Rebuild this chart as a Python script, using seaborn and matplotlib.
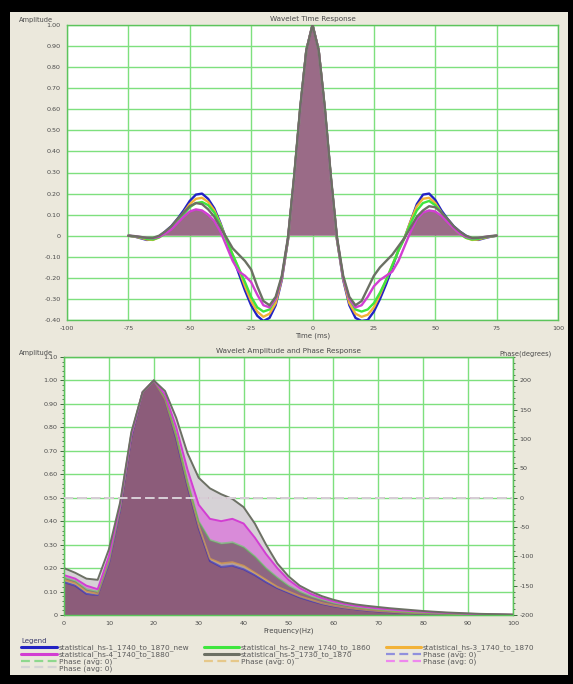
import numpy as np
import pandas as pd
import matplotlib
matplotlib.use("Agg")
import matplotlib.pyplot as plt
import seaborn as sns
from matplotlib.ticker import MultipleLocator, FuncFormatter
from matplotlib.patches import Rectangle
from matplotlib.lines import Line2D

sns.set_style("white")
plt.rcParams["font.family"] = ["DejaVu Sans"]
plt.rcParams["axes.unicode_minus"] = False

# ---------------- data ----------------
series_names = [
    "statistical_hs-1_1740_to_1870_new",
    "statistical_hs-2_new_1740_to_1860",
    "statistical_hs-3_1740_to_1870",
    "statistical_hs-4_1740_to_1880",
    "statistical_hs-5_1730_to_1870",
]
phase_label = "Phase (avg: 0)"
phase_avg = [0, 0, 0, 0, 0]

time_ms = np.arange(-75, 77.5, 2.5)

hs1_time = [0.0, -0.004, -0.012, -0.02, -0.018, -0.005, 0.02, 0.045, 0.08, 0.12, 0.165, 0.195, 0.20, 0.175, 0.13,
            0.06, -0.02, -0.10, -0.18, -0.26, -0.33, -0.38, -0.405, -0.39, -0.33, -0.21, -0.02, 0.27, 0.60, 0.88,
            1.00, 0.88, 0.60, 0.27, -0.02, -0.21, -0.33, -0.39, -0.405, -0.40, -0.36, -0.30, -0.23, -0.15, -0.07,
            -0.01, 0.07, 0.15, 0.195, 0.20, 0.17, 0.12, 0.08, 0.045, 0.02, 0.00, -0.015, -0.02, -0.012, -0.005, 0.0]
hs2_time = [0.0, -0.003, -0.008, -0.015, -0.018, -0.008, 0.01, 0.035, 0.065, 0.10, 0.135, 0.155, 0.16, 0.145, 0.11,
            0.05, -0.02, -0.09, -0.155, -0.22, -0.29, -0.34, -0.36, -0.35, -0.30, -0.20, -0.02, 0.27, 0.60, 0.88,
            1.00, 0.88, 0.60, 0.27, -0.02, -0.20, -0.30, -0.35, -0.36, -0.35, -0.32, -0.27, -0.21, -0.14, -0.07,
            -0.01, 0.06, 0.12, 0.155, 0.165, 0.145, 0.11, 0.07, 0.035, 0.01, -0.01, -0.018, -0.015, -0.008, -0.003, 0.0]
hs3_time = [0.0, -0.004, -0.01, -0.018, -0.02, -0.008, 0.012, 0.04, 0.07, 0.11, 0.15, 0.175, 0.18, 0.16, 0.12,
            0.055, -0.02, -0.09, -0.16, -0.24, -0.31, -0.36, -0.385, -0.37, -0.32, -0.205, -0.02, 0.27, 0.60, 0.88,
            1.00, 0.88, 0.60, 0.27, -0.02, -0.205, -0.32, -0.37, -0.385, -0.375, -0.34, -0.28, -0.21, -0.14, -0.07,
            -0.01, 0.07, 0.14, 0.175, 0.18, 0.155, 0.11, 0.07, 0.035, 0.01, -0.01, -0.02, -0.018, -0.01, -0.004, 0.0]
hs4_time = [0.0, -0.002, -0.006, -0.01, -0.012, -0.005, 0.01, 0.03, 0.06, 0.09, 0.115, 0.125, 0.12, 0.10, 0.07,
            0.02, -0.05, -0.12, -0.17, -0.19, -0.22, -0.28, -0.33, -0.34, -0.30, -0.20, -0.015, 0.27, 0.60, 0.88,
            1.00, 0.88, 0.60, 0.27, -0.015, -0.20, -0.30, -0.34, -0.33, -0.29, -0.24, -0.21, -0.19, -0.17, -0.12,
            -0.05, 0.02, 0.08, 0.11, 0.12, 0.115, 0.095, 0.065, 0.035, 0.01, -0.005, -0.012, -0.01, -0.006, -0.002, 0.0]
hs5_time = [0.0, -0.002, -0.006, -0.01, -0.01, 0.0, 0.02, 0.045, 0.08, 0.11, 0.14, 0.155, 0.15, 0.125, 0.09,
            0.04, -0.01, -0.06, -0.09, -0.12, -0.16, -0.24, -0.31, -0.33, -0.29, -0.19, -0.01, 0.28, 0.61, 0.88,
            1.00, 0.88, 0.61, 0.28, -0.01, -0.19, -0.29, -0.33, -0.31, -0.25, -0.19, -0.15, -0.12, -0.09, -0.05,
            -0.01, 0.04, 0.09, 0.12, 0.14, 0.135, 0.11, 0.08, 0.045, 0.02, 0.0, -0.01, -0.01, -0.006, -0.002, 0.0]

freq_hz = np.arange(0, 102.5, 2.5)

hs1_amp = [0.14, 0.125, 0.09, 0.085, 0.22, 0.45, 0.76, 0.95, 1.00, 0.92, 0.75, 0.55, 0.37, 0.23, 0.205, 0.21,
           0.195, 0.17, 0.14, 0.115, 0.095, 0.075, 0.06, 0.047, 0.037, 0.03, 0.024, 0.019, 0.015, 0.012, 0.01,
           0.008, 0.006, 0.005, 0.004, 0.003, 0.002, 0.002, 0.001, 0.001, 0.0]
hs2_amp = [0.16, 0.145, 0.11, 0.10, 0.24, 0.46, 0.77, 0.95, 1.00, 0.93, 0.77, 0.57, 0.40, 0.32, 0.305, 0.31,
           0.29, 0.25, 0.20, 0.16, 0.125, 0.10, 0.08, 0.065, 0.052, 0.042, 0.034, 0.028, 0.023, 0.019, 0.015,
           0.012, 0.01, 0.008, 0.006, 0.005, 0.004, 0.003, 0.002, 0.002, 0.001]
hs3_amp = [0.15, 0.135, 0.10, 0.09, 0.23, 0.46, 0.77, 0.95, 1.00, 0.92, 0.76, 0.56, 0.38, 0.24, 0.22, 0.225,
           0.21, 0.18, 0.15, 0.12, 0.10, 0.08, 0.065, 0.05, 0.04, 0.032, 0.026, 0.021, 0.017, 0.014, 0.011,
           0.009, 0.007, 0.006, 0.005, 0.004, 0.003, 0.002, 0.002, 0.001, 0.001]
hs4_amp = [0.17, 0.155, 0.125, 0.11, 0.25, 0.47, 0.77, 0.95, 1.00, 0.94, 0.80, 0.62, 0.47, 0.41, 0.40, 0.41,
           0.39, 0.33, 0.26, 0.20, 0.15, 0.115, 0.09, 0.072, 0.058, 0.047, 0.039, 0.033, 0.028, 0.024, 0.02,
           0.017, 0.014, 0.011, 0.009, 0.007, 0.005, 0.004, 0.003, 0.002, 0.001]
hs5_amp = [0.20, 0.18, 0.155, 0.15, 0.28, 0.48, 0.78, 0.95, 1.00, 0.955, 0.84, 0.69, 0.585, 0.54, 0.515, 0.495,
           0.46, 0.39, 0.30, 0.22, 0.165, 0.125, 0.10, 0.08, 0.065, 0.053, 0.045, 0.039, 0.034, 0.029, 0.025,
           0.021, 0.017, 0.014, 0.011, 0.009, 0.007, 0.005, 0.004, 0.003, 0.002]

time_vals = [hs1_time, hs2_time, hs3_time, hs4_time, hs5_time]
amp_vals = [hs1_amp, hs2_amp, hs3_amp, hs4_amp, hs5_amp]

# ---------------- styles ----------------
line_colors = ["#2222c4", "#3ee63e", "#f2b238", "#d23ed2", "#6c7064"]
phase_colors = ["#9090dd", "#8ed88e", "#e6c88a", "#ee88ee", "#d4d4d4"]
fill_colors = ["#8c5c7a", "#8e6682", "#a99aa8", "#d98bd9", "#d6d2d6"]  # per series (hs-1..hs-5)
spec_line_alpha = [0.55, 0.45, 0.55, 1.0, 1.0]
grid_c = "#7ee07e"
spine_c = "#5cc45c"
txt_c = "#4a4a4a"

df_time = pd.DataFrame({"Time": np.tile(time_ms, 5),
                        "Amplitude": np.concatenate(time_vals),
                        "Series": np.repeat(series_names, len(time_ms))})

fig = plt.figure(figsize=(5.73, 6.84), dpi=100, facecolor="black")
fig.add_artist(Rectangle((10 / 573, 1 - 675 / 684), 558 / 573, 663 / 684, transform=fig.transFigure,
                         facecolor="#ebe8dc", edgecolor="none", zorder=0))


def fmt_amp(v, _):
    return "0" if abs(v) < 1e-9 else f"{v:.2f}"


def style_axes(ax):
    ax.set_facecolor("white")
    ax.grid(True, which="major", color=grid_c, lw=1.0)
    ax.set_axisbelow(True)
    for s in ax.spines.values():
        s.set_color(spine_c)
        s.set_linewidth(1.0)
    ax.tick_params(which="major", labelsize=4.6, labelcolor=txt_c, color="#3d6b3d", length=3, width=0.7, pad=1.5)
    ax.tick_params(which="minor", color="#3d6b3d", length=1.6, width=0.6)


# ---------------- top: time response ----------------
ax1 = fig.add_axes([67 / 573, 1 - 320 / 684, 491 / 573, 295 / 684])
style_axes(ax1)
ax1.set_xlim(-100, 100)
ax1.set_ylim(-0.40, 1.00)
ax1.xaxis.set_major_locator(MultipleLocator(25))
ax1.xaxis.set_minor_locator(MultipleLocator(5))
ax1.yaxis.set_major_locator(MultipleLocator(0.1))
ax1.yaxis.set_minor_locator(MultipleLocator(0.02))
ax1.yaxis.set_major_formatter(FuncFormatter(fmt_amp))
ax1.fill_between(time_ms, 0, hs4_time, where=np.array(hs4_time) > 0, interpolate=True,
                 color="#9a6b87", lw=0, zorder=2)
sns.lineplot(data=df_time, x="Time", y="Amplitude", hue="Series",
             hue_order=[series_names[i] for i in [0, 2, 1, 3, 4]],
             palette=dict(zip(series_names, line_colors)), lw=1.7, ax=ax1,
             legend=False, estimator=None, sort=False, zorder=3)
ax1.set_xlabel("Time (ms)", fontsize=5, color=txt_c, labelpad=1)
ax1.set_ylabel("")
ax1.set_title("Wavelet Time Response", fontsize=5.2, color=txt_c, pad=3)
fig.text(36 / 573, 1 - 20 / 684, "Amplitude", fontsize=4.8, color=txt_c, ha="center", va="center")

# ---------------- bottom: amplitude & phase ----------------
ax2 = fig.add_axes([64 / 573, 1 - 615 / 684, 449 / 573, 258 / 684])
style_axes(ax2)
ax2.set_xlim(0, 100)
ax2.set_ylim(0, 1.10)
ax2.xaxis.set_major_locator(MultipleLocator(10))
ax2.xaxis.set_minor_locator(MultipleLocator(2))
ax2.yaxis.set_major_locator(MultipleLocator(0.1))
ax2.yaxis.set_minor_locator(MultipleLocator(0.02))
ax2.yaxis.set_major_formatter(FuncFormatter(fmt_amp))
for i in [4, 3, 1, 2, 0]:
    ax2.fill_between(freq_hz, 0, amp_vals[i], color=fill_colors[i], lw=0, zorder=2)
for i in [0, 2, 1, 3, 4]:
    sns.lineplot(x=freq_hz, y=amp_vals[i], color=line_colors[i], alpha=spec_line_alpha[i], lw=1.4,
                 ax=ax2, estimator=None, sort=False, zorder=3)
ax2.set_xlabel("Frequency(Hz)", fontsize=5, color=txt_c, labelpad=1)
ax2.set_ylabel("")
ax2.set_title("Wavelet Amplitude and Phase Response", fontsize=5.2, color=txt_c, pad=3)
fig.text(36 / 573, 1 - 353 / 684, "Amplitude", fontsize=4.8, color=txt_c, ha="center", va="center")

ax3 = ax2.twinx()
ax3.set_ylim(-200, 240)
ax3.yaxis.set_major_locator(MultipleLocator(50))
ax3.yaxis.set_minor_locator(MultipleLocator(10))
for s in ax3.spines.values():
    s.set_color(spine_c)
ax3.tick_params(which="major", labelsize=4.6, labelcolor=txt_c, color="#3d6b3d", length=3, width=0.7, pad=1.5)
ax3.tick_params(which="minor", color="#3d6b3d", length=1.6, width=0.6)
ax3.grid(False)
for p, c in zip(phase_avg, phase_colors):
    ax3.axhline(p, color=c, lw=1.3, ls=(0, (5, 2.5)), zorder=4)
fig.text(525 / 573, 1 - 354 / 684, "Phase(degrees)", fontsize=4.8, color=txt_c, ha="center", va="center")

# ---------------- legend ----------------
h_series = [Line2D([], [], color=c, lw=2.2) for c in line_colors]
h_phase = [Line2D([], [], color=c, lw=1.6, ls=(0, (4, 2))) for c in phase_colors]
labels_series = series_names
order = [(h_series[0], labels_series[0]), (h_series[3], labels_series[3]),
         (h_phase[1], phase_label), (h_phase[4], phase_label),
         (h_series[1], labels_series[1]), (h_series[4], labels_series[4]),
         (h_phase[2], phase_label),
         (h_series[2], labels_series[2]), (h_phase[0], phase_label),
         (h_phase[3], phase_label)]
leg = fig.legend([o[0] for o in order], [o[1] for o in order], ncol=3,
                 loc="upper left", bbox_to_anchor=(17 / 573, 1 - 634 / 684),
                 frameon=False, fontsize=5.3, title="Legend", title_fontsize=5.0,
                 alignment="left", handlelength=4.8, handletextpad=0.3,
                 columnspacing=1.9, labelspacing=0.0, borderpad=0.1)
for t in leg.get_texts():
    t.set_color("#5a5a5a")
leg.get_title().set_color("#3a3a6a")

fig.savefig("out.png", dpi=100, facecolor=fig.get_facecolor())
